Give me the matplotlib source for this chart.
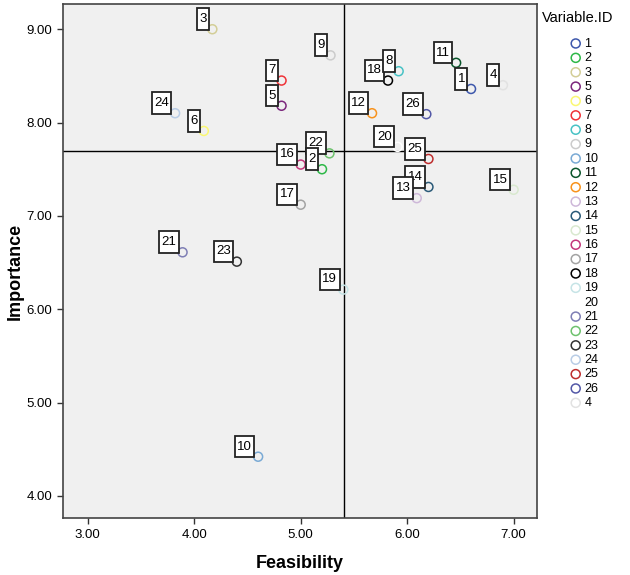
import matplotlib
matplotlib.use('Agg')
import matplotlib.pyplot as plt
from matplotlib.ticker import FormatStrFormatter

plt.rcParams['font.family'] = ['Liberation Sans', 'DejaVu Sans']

# legend order as in the source chart (4 was added last)
ids = ['1', '2', '3', '5', '6', '7', '8', '9', '10', '11', '12', '13', '14',
       '15', '16', '17', '18', '19', '20', '21', '22', '23', '24', '25', '26', '4']
feasibility = [6.60, 5.20, 4.17, 4.82, 4.09, 4.82, 5.92, 5.28, 4.60, 6.46, 5.67, 6.09, 6.20,
               7.00, 5.00, 5.00, 5.82, 5.40, 5.91, 3.89, 5.27, 4.40, 3.82, 6.20, 6.18, 6.90]
importance = [8.36, 7.50, 9.00, 8.18, 7.91, 8.45, 8.55, 8.72, 4.42, 8.64, 8.10, 7.19, 7.31,
              7.28, 7.55, 7.12, 8.45, 6.21, 7.74, 6.61, 7.67, 6.51, 8.10, 7.61, 8.09, 8.40]
colors = ['#3e58ac', '#2eb848', '#d3ce97', '#7c287d', '#fbf873', '#ef3338', '#48c2c5',
          '#cccccc', '#7aaad5', '#0a562c', '#f8931d', '#ceb8d9', '#2a5a78', '#d9e9cf',
          '#c4387c', '#a3a3a3', '#000000', '#c6e4e6', '#ffffff', '#7f7fb5', '#6ec26e',
          '#333333', '#b9cde6', '#be2d2d', '#5358a7', '#e2e2e2']

ref_feas = 5.41   # vertical reference line
ref_imp = 7.69    # horizontal reference line

fig = plt.figure(figsize=(6.3, 5.75), dpi=100)
ax = fig.add_axes([0.1005, 0.0986, 0.7519, 0.8944])
ax.set_facecolor('#f0f0f0')

for i in range(len(ids)):
    ax.scatter(feasibility[i], importance[i], s=42, facecolors='none',
               edgecolors=colors[i], linewidths=1.1, label=ids[i], zorder=3)

# point labels, higher ids drawn first so lower ids sit on top
order = sorted(range(len(ids)), key=lambda k: -int(ids[k]))
for z, i in enumerate(order):
    ax.annotate(ids[i], (feasibility[i], importance[i]), xytext=(-6, 4.2),
                textcoords='offset pixels', ha='right', va='bottom', fontsize=9.5,
                bbox=dict(boxstyle='square,pad=0.18', fc='white', ec='#222222', lw=1.3,
                          mutation_aspect=2.0),
                zorder=5 + z)

ax.axvline(ref_feas, color='black', lw=1.0, zorder=2)
ax.axhline(ref_imp, color='black', lw=1.0, zorder=2)

ax.set_xlim(2.77, 7.22)
ax.set_ylim(3.76, 9.27)
ax.set_xticks([3, 4, 5, 6, 7])
ax.set_yticks([4, 5, 6, 7, 8, 9])
ax.xaxis.set_major_formatter(FormatStrFormatter('%.2f'))
ax.yaxis.set_major_formatter(FormatStrFormatter('%.2f'))
ax.tick_params(direction='out', length=4.5, width=1, colors='#333333', labelsize=9.5,
               labelcolor='black')
for sp in ax.spines.values():
    sp.set_color('#444444')
    sp.set_linewidth(1.2)

ax.set_xlabel('Feasibility', fontsize=13, fontweight='bold', va='center')
ax.set_ylabel('Importance', fontsize=13, fontweight='bold', va='center')
ax.xaxis.set_label_coords(0.5, -0.087)
ax.yaxis.set_label_coords(-0.102, 0.48)

fig.text(0.917, 0.968, 'Variable.ID', ha='center', va='center', fontsize=10.5)
leg = ax.legend(loc='upper left', bbox_to_anchor=(0.892, 0.9452), bbox_transform=fig.transFigure,
                frameon=False, fontsize=9, handletextpad=0.1, labelspacing=0.19,
                borderpad=0, handlelength=1.2, markerscale=1.0)

fig.savefig('out.png', dpi=100)
